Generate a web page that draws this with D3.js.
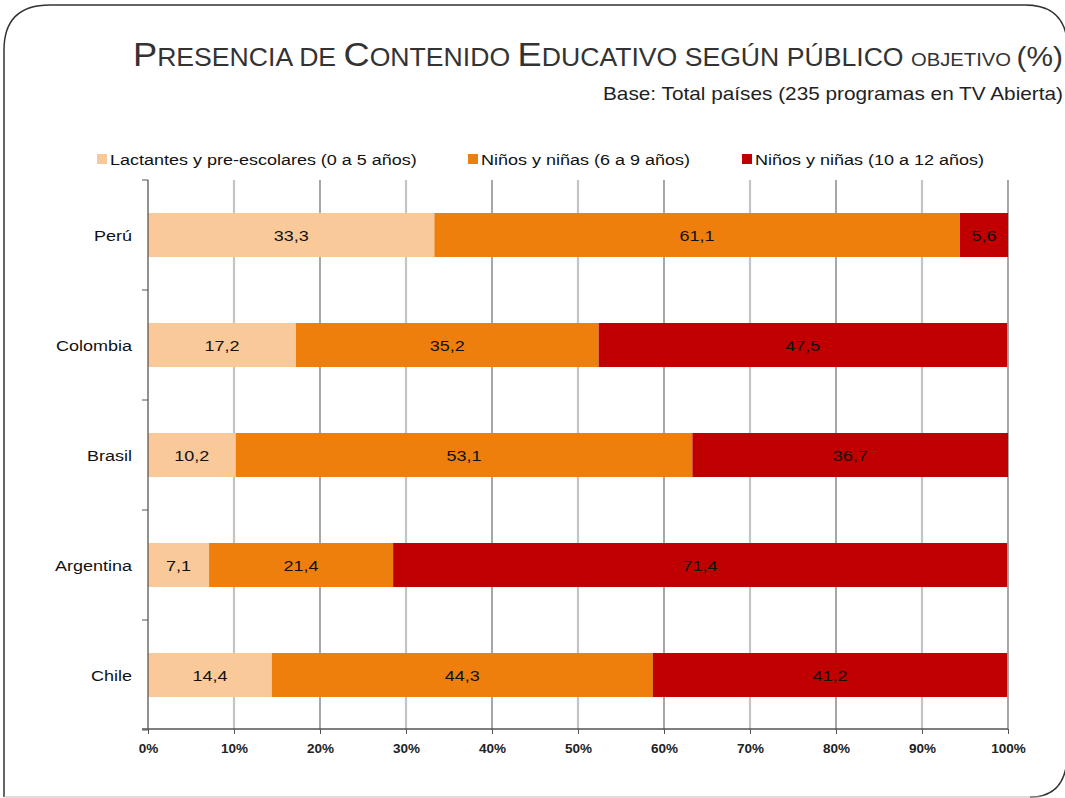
<!DOCTYPE html>
<html><head><meta charset="utf-8">
<script src="https://cdn.jsdelivr.net/npm/d3@7"></script>
<style>body{margin:0;background:#fff}svg{display:block}</style>
</head><body>
<svg id="c" width="1065" height="798"></svg>
<script>
const categories = ["Perú","Colombia","Brasil","Argentina","Chile"];
const seriesNames = ["Lactantes y pre-escolares (0 a 5 años)","Niños y niñas (6 a 9 años)","Niños y niñas (10 a 12 años)"];
const lactantes = [33.3,17.2,10.2,7.1,14.4];
const ninos6a9 = [61.1,35.2,53.1,21.4,44.3];
const ninos10a12 = [5.6,47.5,36.7,71.4,41.2];
const xTicks = [0,10,20,30,40,50,60,70,80,90,100];
const colors = ["#F9C99A","#EF7F0C","#C00000"];

const svg = d3.select("#c");
// frame
svg.append("path")
  .attr("d","M4,797 L4,50 Q4,5 50,5 L1025,5 Q1063,5 1067,40 L1067,760 Q1064,797 1030,797")
  .attr("fill","none").attr("stroke","#333").attr("stroke-width",1.5);
svg.append("line").attr("x1",4).attr("x2",1040).attr("y1",797).attr("y2",797).attr("stroke","#bbb");

// title
const t = svg.append("text").attr("x",1063).attr("y",66).attr("text-anchor","end")
  .attr("font-family","'Liberation Sans Narrow','Arial Narrow','Liberation Sans',sans-serif").attr("fill","#333")
  .attr("textLength",930).attr("lengthAdjust","spacingAndGlyphs");
[["P",34],["RESENCIA DE ",25],["C",34],["ONTENIDO ",25],["E",34],["DUCATIVO SEGÚN PÚBLICO ",25],["OBJETIVO ",19],["(%)",28]]
  .forEach(([s,f])=>t.append("tspan").attr("font-size",f).text(s));
svg.append("text").attr("x",1063).attr("y",100).attr("text-anchor","end")
  .attr("font-family","'Liberation Sans Narrow','Arial Narrow','Liberation Sans',sans-serif")
  .attr("font-size",19).attr("fill","#222").attr("textLength",460).attr("lengthAdjust","spacingAndGlyphs")
  .text("Base: Total países (235 programas en TV Abierta)");

// legend
const legX = [97,468,742];
seriesNames.forEach((n,i)=>{
  svg.append("rect").attr("x",legX[i]).attr("y",154).attr("width",10).attr("height",10).attr("fill",colors[i]);
  svg.append("text").attr("class","wide").attr("x",legX[i]+13).attr("y",164.5).attr("font-family","'Liberation Sans',Arial,sans-serif")
    .attr("font-size",15.5).attr("fill","#111").text(n);
});

const x = d3.scaleLinear().domain([0,100]).range([148,1008]);
const y = d3.scaleBand().domain(categories).range([180,730]).paddingInner(0.6).paddingOuter(0.3);
const yb = d3.scaleBand().domain(categories).range([180,730]);

// gridlines
svg.append("g").selectAll("line").data(xTicks.filter(d=>d>0)).join("line")
  .attr("x1",d=>x(d)).attr("x2",d=>x(d)).attr("y1",180).attr("y2",730)
  .attr("stroke",d=>d%20===0?"#777":"#c4c4c4").attr("stroke-width",d=>d%20===0?1.3:2.2);

// bars
const series = [lactantes,ninos6a9,ninos10a12];
categories.forEach((c,ci)=>{
  let acc=0;
  series.forEach((s,si)=>{
    const v=s[ci];
    svg.append("rect").attr("x",x(acc)).attr("y",y(c)).attr("width",x(Math.min(acc+v,100))-x(acc)).attr("height",y.bandwidth())
      .attr("fill",colors[si]);
    svg.append("text").attr("class","wide").attr("x",(x(acc)+x(Math.min(acc+v,100)))/2).attr("y",y(c)+y.bandwidth()/2+5.5)
      .attr("text-anchor","middle").attr("font-family","'Liberation Sans',Arial,sans-serif").attr("font-size",15.5)
      .attr("fill","#111").text(d3.format(".1f")(v).replace(".",","));
    acc+=v;
  });
});

// y axis
const ya = svg.append("g");
ya.append("line").attr("x1",148).attr("x2",148).attr("y1",180).attr("y2",730).attr("stroke","#555").attr("stroke-width",1.3);
ya.selectAll("line.t").data(d3.range(categories.length+1)).join("line").attr("class","t")
  .attr("x1",142).attr("x2",148).attr("y1",i=>180+i*yb.step()).attr("y2",i=>180+i*yb.step()).attr("stroke","#555");
ya.selectAll("text").data(categories).join("text").attr("class","wide").attr("x",132).attr("y",c=>yb(c)+yb.bandwidth()/2+5.5)
  .attr("text-anchor","end").attr("font-family","'Liberation Sans',Arial,sans-serif").attr("font-size",15.5).attr("fill","#111").text(c=>c);

// x axis
const xa = svg.append("g").attr("transform","translate(0,729)")
  .call(d3.axisBottom(x).tickValues(xTicks).tickSize(5).tickFormat(d=>d+"%"));
xa.select(".domain").attr("stroke","#555").attr("stroke-width",1.3).attr("d","M142,0H1008");
xa.selectAll(".tick line").attr("stroke","#555");
xa.selectAll("text").attr("class","wide2").attr("font-family","'Liberation Sans',Arial,sans-serif").attr("font-size",12.5)
  .attr("font-weight","bold").attr("fill","#222").attr("dy","1.3em");

// horizontal stretch like the reference rendering
svg.selectAll("text.wide").each(function(){
  const L=this.getComputedTextLength();
  d3.select(this).attr("textLength",L*1.16).attr("lengthAdjust","spacingAndGlyphs");
});
svg.selectAll("text.wide2").each(function(){
  const L=this.getComputedTextLength();
  d3.select(this).attr("textLength",L*1.08).attr("lengthAdjust","spacingAndGlyphs");
});
</script>
</body></html>
